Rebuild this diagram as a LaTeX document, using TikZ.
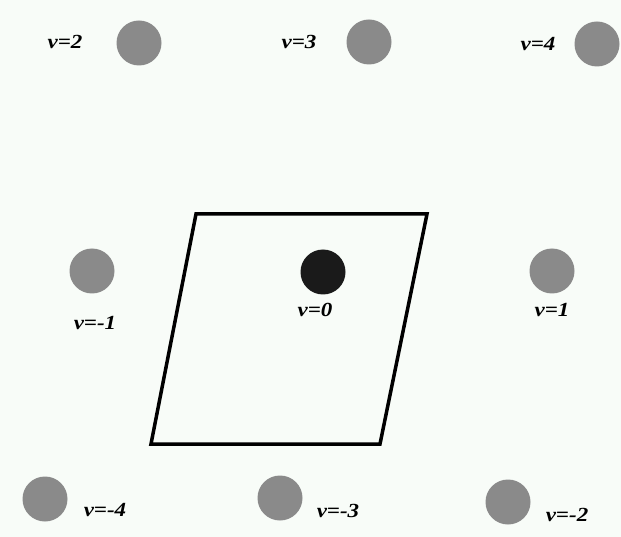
\documentclass[tikz,border=0pt]{standalone}
\usepackage{fontspec}
\setmainfont{Liberation Serif}
\usetikzlibrary{positioning}
\definecolor{paper}{RGB}{248,252,248}
\definecolor{dotgray}{RGB}{138,138,138}
\definecolor{dotblack}{RGB}{26,26,26}
\begin{document}
\begin{tikzpicture}[x=1pt,y=-1pt,
  every node/.style={font=\fontsize{20}{21}\selectfont\bfseries\itshape,inner sep=0pt},
  tag/.style={xscale=1.15},
  site/.style={circle,fill=dotgray,minimum size=45pt},
  origin/.style={circle,fill=dotblack,minimum size=45pt}]
  \fill[paper] (0,0) rectangle (621,537);
  \useasboundingbox (0,0) rectangle (621,537);
  % cell
  \coordinate (c1) at (196,214);
  \coordinate (c2) at (427,214);
  \coordinate (c3) at (380,444);
  \coordinate (c4) at (151,444);
  \draw[line width=3.5pt,line join=miter] (c1)--(c2)--(c3)--(c4)--cycle;
  % sites
  \node[origin] (v0) at (323,272) {};
  \foreach \n/\x/\y in {p2/139/43,p3/369/42,p4/597/44,m1/92/271,p1/552/271,
                        m4/45/499,m3/280/498,m2/508/502} {
    \node[site] (v\n) at (\x,\y) {};
  }
  % labels
  \node[tag] (l0) at (315,310) {v=0};
  \node[tag] (lp2) at (65,42) {v=2};
  \node[tag] (lp3) at (299,42) {v=3};
  \node[tag] (lp4) at (538,44) {v=4};
  \node[tag] (lm1) at (95,323) {v=-1};
  \node[tag] (lp1) at (552,310) {v=1};
  \node[tag] (lm4) at (105,510) {v=-4};
  \node[tag] (lm3) at (338,511) {v=-3};
  \node[tag] (lm2) at (567,515) {v=-2};
\end{tikzpicture}
\end{document}
